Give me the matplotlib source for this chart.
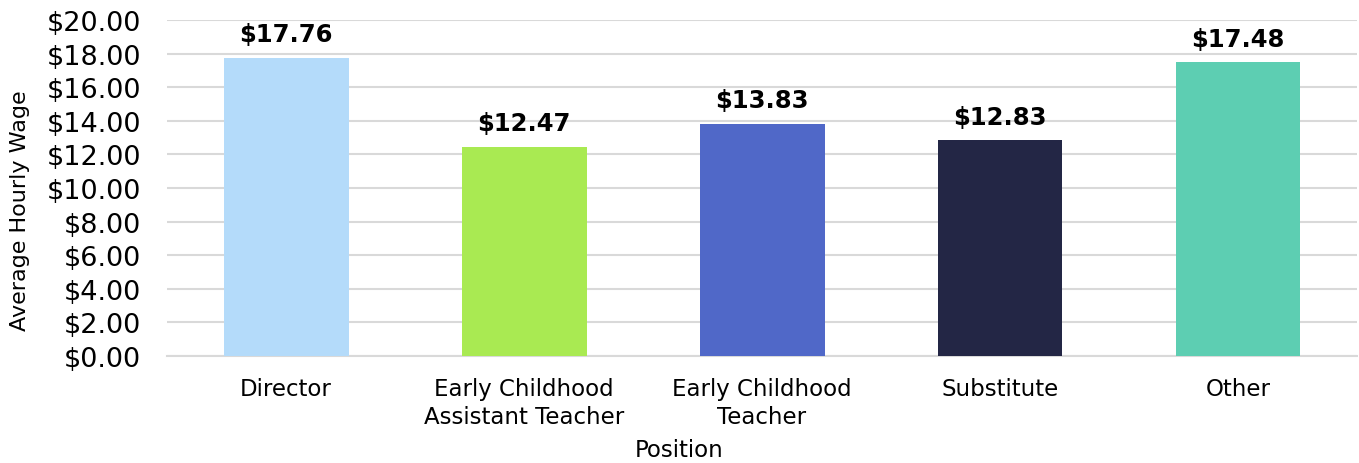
import matplotlib.pyplot as plt
from matplotlib.ticker import FuncFormatter

positions = ["Director", "Early Childhood\nAssistant Teacher", "Early Childhood\nTeacher",
             "Substitute", "Other"]
wages = [17.76, 12.47, 13.83, 12.83, 17.48]
colors = ["#B4DBFA", "#A9EA52", "#5068C8", "#232645", "#5DCEB2"]

plt.rcParams['font.family'] = ['DejaVu Sans']

fig = plt.figure(figsize=(13.59, 4.64), dpi=100)
ax = fig.add_axes([0.123, 0.2306, 0.8755, 0.7241])

x = range(len(positions))
bars = ax.bar(x, wages, width=0.525, color=colors, zorder=3)
for b, v in zip(bars, wages):
    ax.text(b.get_x() + b.get_width() / 2, v + 0.7, f"${v:.2f}",
            ha="center", va="bottom", fontsize=17.5, fontweight="bold")

ax.set_xlim(-0.5, len(positions) - 0.5)
ax.set_ylim(0, 20)
ax.set_yticks(range(0, 21, 2))
ax.yaxis.set_major_formatter(FuncFormatter(lambda v, p: f"${v:.2f}"))
ax.set_xticks(list(x))
ax.set_xticklabels(positions, fontsize=16.5, linespacing=1.3)
ax.tick_params(axis="y", labelsize=19.5, length=0, pad=19)
ax.tick_params(axis="x", length=0, pad=15)

ax.grid(axis="y", color="#D9D9D9", linewidth=1.5, zorder=0)
for s in ["top", "right", "left"]:
    ax.spines[s].set_visible(False)
ax.spines["bottom"].set_color("#D9D9D9")
ax.spines["bottom"].set_linewidth(1.5)

fig.text(0.0147, 0.547, "Average Hourly Wage", fontsize=16, rotation=90,
         ha="center", va="center")
fig.text(0.5, 0.030, "Position", fontsize=16.5, ha="center", va="center")

fig.savefig("out.png", dpi=100)
